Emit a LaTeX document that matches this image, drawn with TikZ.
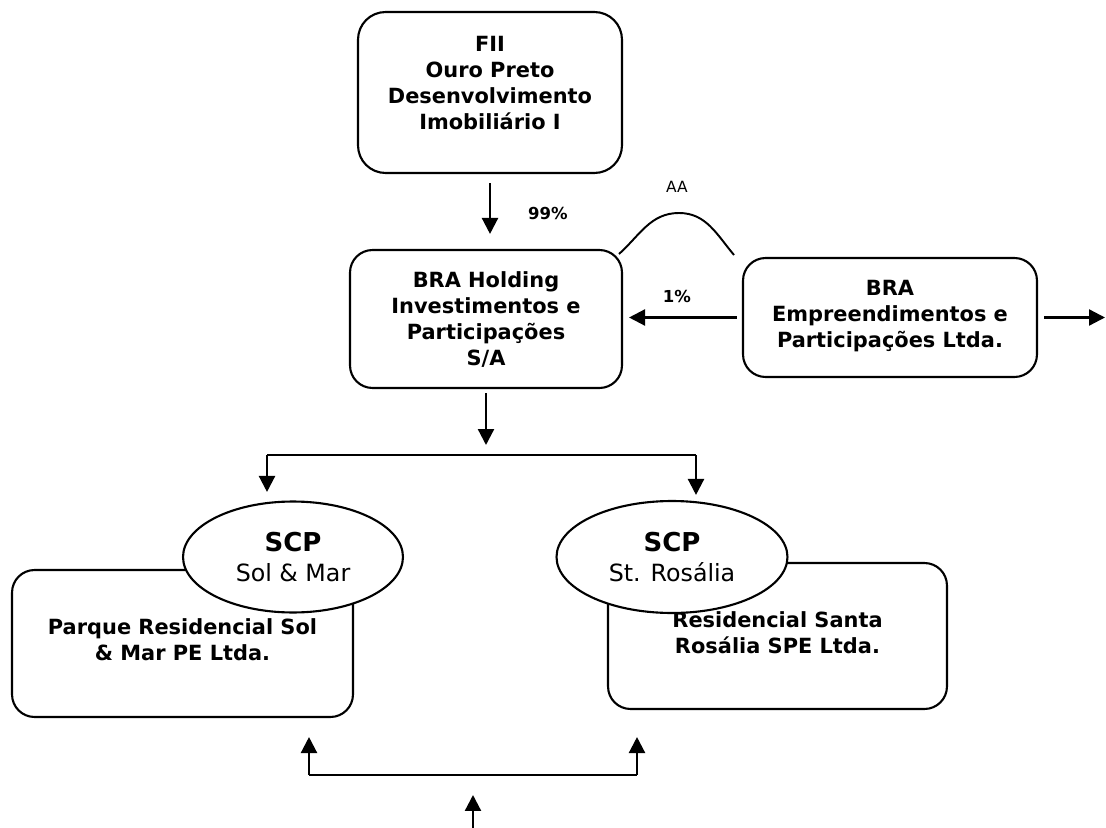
\documentclass[tikz,border=0pt]{standalone}
\usepackage{fontspec}
\setmainfont{DejaVu Sans}
\usetikzlibrary{arrows.meta}
\usetikzlibrary{calc}
\usetikzlibrary{positioning, shapes.geometric}

\begin{document}
\begin{tikzpicture}[x=0.02cm,y=-0.02cm,
    box/.style={draw, line width=1.2pt, rounded corners=0.45cm, inner sep=0pt},
    boxtext/.style={align=center, inner sep=0pt, font=\fontsize{11.9}{14.8}\selectfont\bfseries},
    scp/.style={draw, ellipse, fill=white, line width=1.2pt, inner sep=0pt, align=center,
      font=\fontsize{13.5}{17.5}\selectfont},
    pct/.style={inner sep=0pt, font=\fontsize{9.4}{10}\selectfont\bfseries},
    arr/.style={line width=1.3pt, -{Triangle[length=0.32cm,width=0.32cm]}}]
  \useasboundingbox (0,0) rectangle (1106,828);

  \node[box, minimum width=5.28cm, minimum height=3.22cm, rounded corners=0.55cm] (fii) at (490,92.5) {};
  \node[boxtext, below=0.5cm of fii.north] (fiitext)
    {FII\\Ouro Preto\\Desenvolvimento\\Imobiliário I};
  \node[box, minimum width=5.44cm, minimum height=2.76cm] (holding) at (486,319) {};
  \node[boxtext, below=0.44cm of holding.north] (holdingtext)
    {BRA Holding\\Investimentos e\\Participações\\S/A};
  \node[box, minimum width=5.88cm, minimum height=2.38cm] (emp) at (890,317.5) {};
  \node[boxtext, below=0.46cm of emp.north] (emptext)
    {BRA\\Empreendimentos e\\Participações Ltda.};
  \node[box, minimum width=6.82cm, minimum height=2.94cm] (parque) at (182.5,643.5) {};
  \node[boxtext, below=0.98cm of parque.north] (parquetext)
    {Parque Residencial Sol\\\& Mar PE Ltda.};
  \node[box, minimum width=6.78cm, minimum height=2.92cm] (rosalia) at (777.5,636) {};
  \node[boxtext, below=0.98cm of rosalia.north] (rosaliatext)
    {Residencial Santa\\Rosália SPE Ltda.};

  \node[scp, minimum width=4.4cm, minimum height=2.22cm] (scpsol) at (293,557)
    {{\bfseries\fontsize{14.8}{17.5}\selectfont SCP}\\Sol \& Mar};
  \node[scp, minimum width=4.62cm, minimum height=2.24cm] (scprosa) at (672,557)
    {{\bfseries\fontsize{14.8}{17.5}\selectfont SCP}\\St. Rosália};

  \node[pct] (p99) at (548,213) {99\%};
  \node[pct] (p1) at (677,296) {1\%};
  \node[inner sep=0pt, font=\fontsize{8.8}{10}\selectfont] (aa) at (677,187) {AA};

  \coordinate (humpL) at (619,254);
  \coordinate (humptop) at (679,213);
  \coordinate (humpR) at (734,255);
  \draw[line width=1.1pt] (humpL) to[out=42,in=180] (humptop) to[out=0,in=130] (humpR);

  \draw[arr, shorten <=0.18cm, shorten >=0.3cm] (fii.south) -- (fii.south |- holding.north);
  \draw[arr, shorten <=0.1cm, shorten >=0.12cm] (emp.west) -- (emp.west -| holding.east);
  \coordinate (exit) at (1105,317.5);
  \draw[arr, shorten <=0.12cm] (emp.east) -- (exit);

  \coordinate (busL) at (267,455);
  \coordinate (busR) at (696,455);
  \draw[line width=1.3pt] (busL) -- (busR);
  \draw[arr, shorten <=0.08cm, shorten >=0.2cm] (holding.south) -- (holding.south |- busL);
  \draw[arr, shorten >=0.17cm] (busL) -- (busL |- scpsol.north);
  \draw[arr, shorten >=0.1cm] (busR) -- (busR |- scprosa.north);

  \coordinate (busBL) at (309,775);
  \coordinate (busBR) at (637,775);
  \coordinate (feed) at (473,828);
  \draw[line width=1.3pt] (busBL) -- (busBR);
  \draw[arr, shorten >=0.38cm] (busBL) -- (busBL |- parque.south);
  \draw[arr, shorten >=0.54cm] (busBR) -- (busBR |- rosalia.south);
  \draw[arr, shorten >=0.4cm] (feed) -- (feed |- busBL);
\end{tikzpicture}
\end{document}
